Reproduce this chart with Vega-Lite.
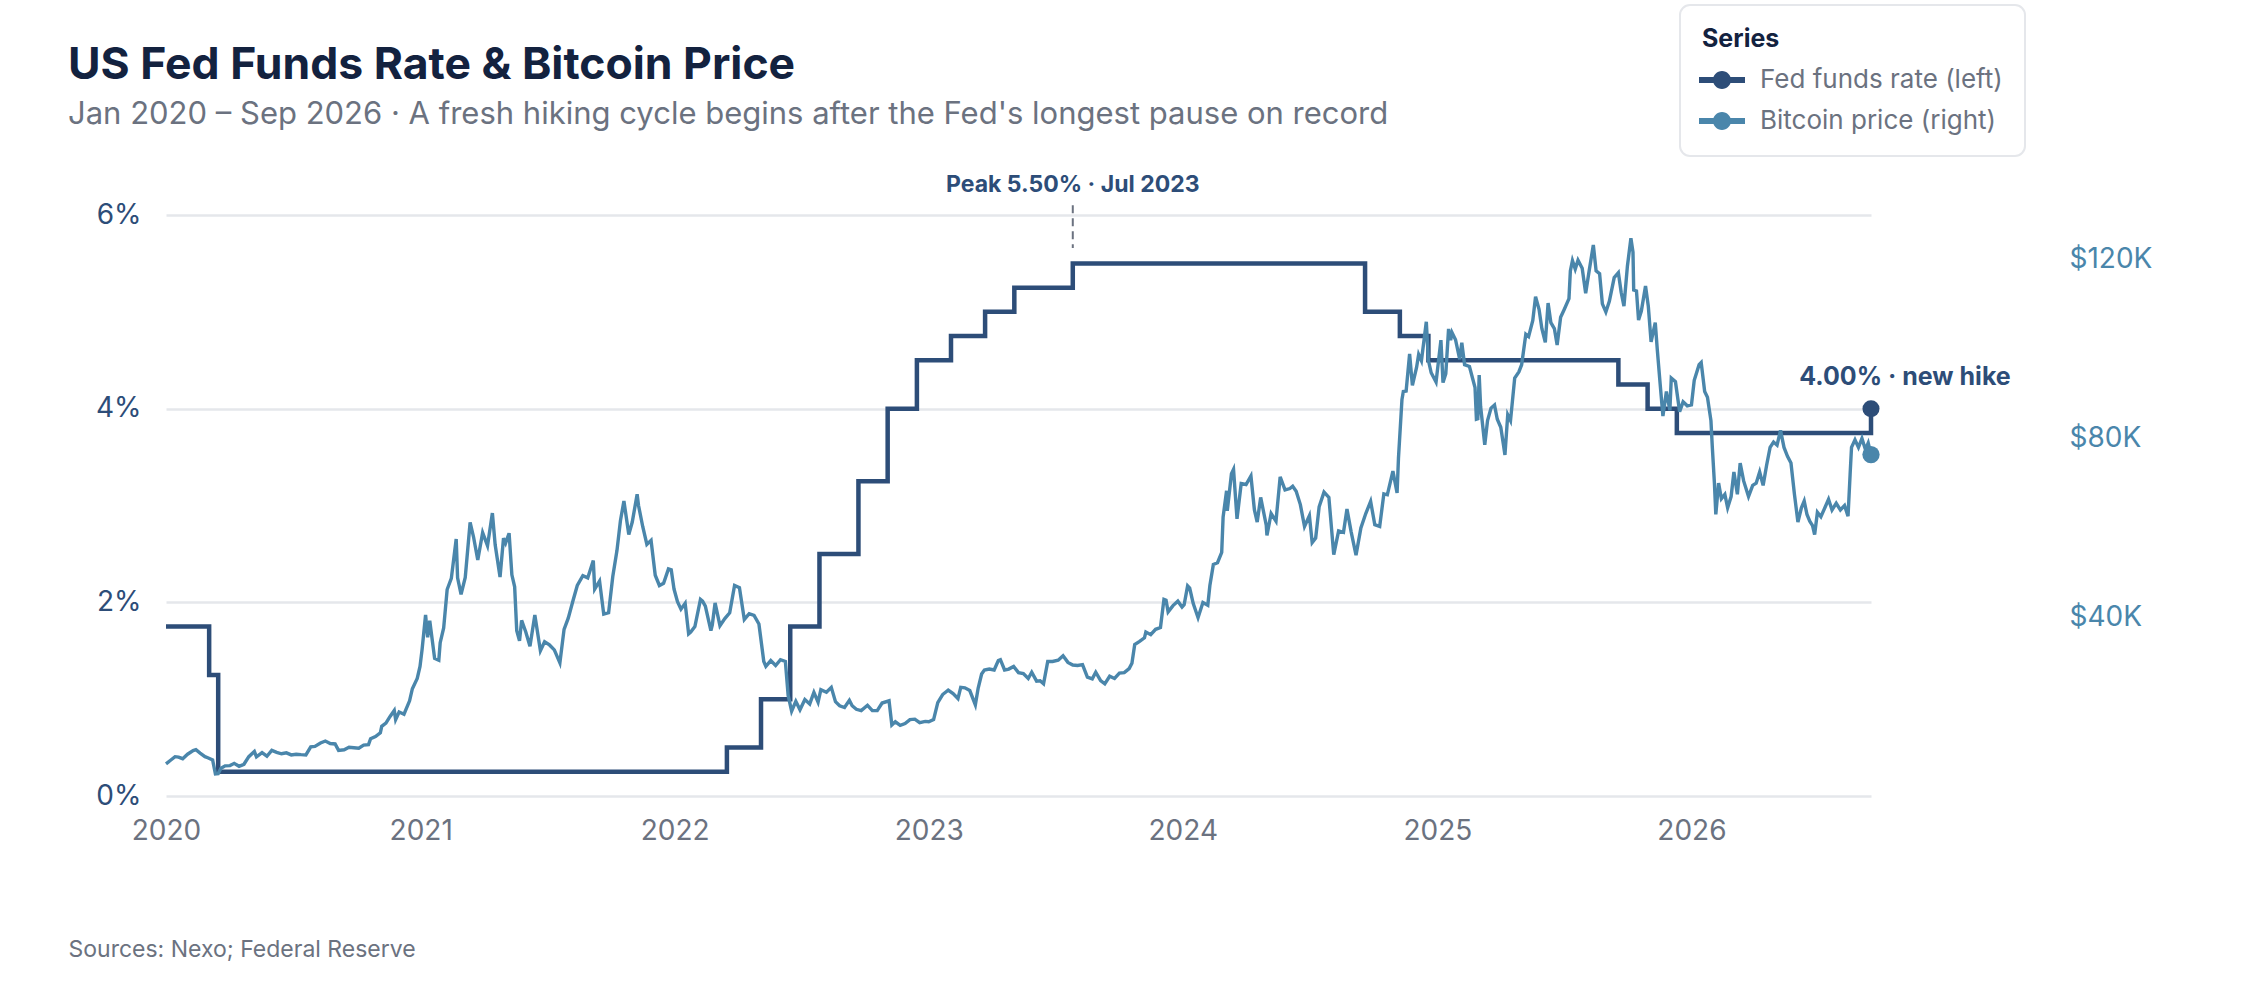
{
  "$schema": "https://vega.github.io/schema/vega-lite/v6.json",
  "autosize": {"type": "none"},
  "width": 1705,
  "height": 581,
  "padding": {"left": 166, "top": 215, "right": 371, "bottom": 206},
  "background": "white",
  "config": {"font": "Inter", "view": {"stroke": null}},
  "title": {
    "text": "US Fed Funds Rate & Bitcoin Price",
    "subtitle": "Jan 2020 – Sep 2026 · A fresh hiking cycle begins after the Fed's longest pause on record",
    "anchor": "start",
    "frame": "group",
    "dx": -98,
    "offset": -127,
    "font": "Inter",
    "fontSize": 44.5,
    "fontWeight": 700,
    "color": "#13223f",
    "subtitleFont": "Inter",
    "subtitleFontSize": 31,
    "subtitleColor": "#6b7280",
    "subtitlePadding": 12
  },
  "datasets": {
    "fed": [
      {"date": "2020-01-01", "rate": 1.75},
      {"date": "2020-03-03", "rate": 1.25},
      {"date": "2020-03-16", "rate": 0.25},
      {"date": "2022-03-17", "rate": 0.5},
      {"date": "2022-05-05", "rate": 1.0},
      {"date": "2022-06-16", "rate": 1.75},
      {"date": "2022-07-28", "rate": 2.5},
      {"date": "2022-09-22", "rate": 3.25},
      {"date": "2022-11-03", "rate": 4.0},
      {"date": "2022-12-15", "rate": 4.5},
      {"date": "2023-02-02", "rate": 4.75},
      {"date": "2023-03-23", "rate": 5.0},
      {"date": "2023-05-04", "rate": 5.25},
      {"date": "2023-07-27", "rate": 5.5},
      {"date": "2024-09-19", "rate": 5.0},
      {"date": "2024-11-08", "rate": 4.75},
      {"date": "2024-12-19", "rate": 4.5},
      {"date": "2025-09-18", "rate": 4.25},
      {"date": "2025-10-30", "rate": 4.0},
      {"date": "2025-12-11", "rate": 3.75},
      {"date": "2026-09-16", "rate": 4.0}
    ],
    "peak": [
      {"date": "2023-07-27", "rate": 5.5, "label": "Peak 5.50% · Jul 2023"}
    ],
    "hike": [
      {"date": "2026-09-16", "rate": 4.0, "label": "4.00% · new hike"}
    ],
    "btc": [
      {"date": "2020-01-01", "price": 7200},
      {"date": "2020-01-08", "price": 8050},
      {"date": "2020-01-14", "price": 8800},
      {"date": "2020-01-19", "price": 8700},
      {"date": "2020-01-25", "price": 8350},
      {"date": "2020-02-01", "price": 9350},
      {"date": "2020-02-09", "price": 10150},
      {"date": "2020-02-13", "price": 10350},
      {"date": "2020-02-19", "price": 9600},
      {"date": "2020-02-26", "price": 8800},
      {"date": "2020-03-01", "price": 8550},
      {"date": "2020-03-08", "price": 8050},
      {"date": "2020-03-12", "price": 4950},
      {"date": "2020-03-16", "price": 5000},
      {"date": "2020-03-20", "price": 6200},
      {"date": "2020-03-26", "price": 6750},
      {"date": "2020-04-02", "price": 6800},
      {"date": "2020-04-08", "price": 7300},
      {"date": "2020-04-15", "price": 6650},
      {"date": "2020-04-22", "price": 7100},
      {"date": "2020-04-29", "price": 8800},
      {"date": "2020-05-07", "price": 9950},
      {"date": "2020-05-10", "price": 8750},
      {"date": "2020-05-18", "price": 9700},
      {"date": "2020-05-25", "price": 8900},
      {"date": "2020-06-01", "price": 10200},
      {"date": "2020-06-08", "price": 9750},
      {"date": "2020-06-15", "price": 9450},
      {"date": "2020-06-22", "price": 9650},
      {"date": "2020-06-29", "price": 9200},
      {"date": "2020-07-06", "price": 9350},
      {"date": "2020-07-13", "price": 9250},
      {"date": "2020-07-20", "price": 9200},
      {"date": "2020-07-27", "price": 11000},
      {"date": "2020-08-02", "price": 11100},
      {"date": "2020-08-10", "price": 11850},
      {"date": "2020-08-17", "price": 12300},
      {"date": "2020-08-24", "price": 11750},
      {"date": "2020-08-31", "price": 11650},
      {"date": "2020-09-05", "price": 10200},
      {"date": "2020-09-13", "price": 10350},
      {"date": "2020-09-20", "price": 10900},
      {"date": "2020-09-27", "price": 10800},
      {"date": "2020-10-04", "price": 10700},
      {"date": "2020-10-11", "price": 11400},
      {"date": "2020-10-18", "price": 11500},
      {"date": "2020-10-21", "price": 12800},
      {"date": "2020-10-28", "price": 13300},
      {"date": "2020-11-04", "price": 14150},
      {"date": "2020-11-06", "price": 15600},
      {"date": "2020-11-12", "price": 16300},
      {"date": "2020-11-18", "price": 17800},
      {"date": "2020-11-24", "price": 19150},
      {"date": "2020-11-26", "price": 17100},
      {"date": "2020-12-01", "price": 18800},
      {"date": "2020-12-08", "price": 18300},
      {"date": "2020-12-16", "price": 21300},
      {"date": "2020-12-20", "price": 24000},
      {"date": "2020-12-27", "price": 26300},
      {"date": "2020-12-31", "price": 29000},
      {"date": "2021-01-03", "price": 32800},
      {"date": "2021-01-08", "price": 40500},
      {"date": "2021-01-11", "price": 35500},
      {"date": "2021-01-14", "price": 39200},
      {"date": "2021-01-21", "price": 30800},
      {"date": "2021-01-27", "price": 30400},
      {"date": "2021-01-29", "price": 34300},
      {"date": "2021-02-03", "price": 37600},
      {"date": "2021-02-08", "price": 46200},
      {"date": "2021-02-14", "price": 48700},
      {"date": "2021-02-21", "price": 57500},
      {"date": "2021-02-23", "price": 48800},
      {"date": "2021-02-28", "price": 45100},
      {"date": "2021-03-06", "price": 48900},
      {"date": "2021-03-13", "price": 61200},
      {"date": "2021-03-18", "price": 57900},
      {"date": "2021-03-24", "price": 52800},
      {"date": "2021-03-31", "price": 58900},
      {"date": "2021-04-07", "price": 56000},
      {"date": "2021-04-14", "price": 63300},
      {"date": "2021-04-18", "price": 56200},
      {"date": "2021-04-25", "price": 49000},
      {"date": "2021-04-30", "price": 57700},
      {"date": "2021-05-03", "price": 56600},
      {"date": "2021-05-08", "price": 58800},
      {"date": "2021-05-12", "price": 49500},
      {"date": "2021-05-16", "price": 46800},
      {"date": "2021-05-19", "price": 37000},
      {"date": "2021-05-23", "price": 34700},
      {"date": "2021-05-26", "price": 39300},
      {"date": "2021-06-01", "price": 36700},
      {"date": "2021-06-07", "price": 33500},
      {"date": "2021-06-14", "price": 40500},
      {"date": "2021-06-22", "price": 32500},
      {"date": "2021-06-28", "price": 34500},
      {"date": "2021-07-05", "price": 33800},
      {"date": "2021-07-12", "price": 32700},
      {"date": "2021-07-20", "price": 29800},
      {"date": "2021-07-26", "price": 37300},
      {"date": "2021-08-01", "price": 39800},
      {"date": "2021-08-08", "price": 43800},
      {"date": "2021-08-14", "price": 47100},
      {"date": "2021-08-22", "price": 49300},
      {"date": "2021-08-29", "price": 48800},
      {"date": "2021-09-06", "price": 52700},
      {"date": "2021-09-08", "price": 46300},
      {"date": "2021-09-15", "price": 48100},
      {"date": "2021-09-21", "price": 40700},
      {"date": "2021-09-28", "price": 41000},
      {"date": "2021-10-04", "price": 49100},
      {"date": "2021-10-10", "price": 54900},
      {"date": "2021-10-15", "price": 61600},
      {"date": "2021-10-20", "price": 66000},
      {"date": "2021-10-27", "price": 58500},
      {"date": "2021-11-01", "price": 61300},
      {"date": "2021-11-08", "price": 67500},
      {"date": "2021-11-10", "price": 65000},
      {"date": "2021-11-16", "price": 60300},
      {"date": "2021-11-22", "price": 56300},
      {"date": "2021-11-28", "price": 57200},
      {"date": "2021-12-04", "price": 49400},
      {"date": "2021-12-10", "price": 47100},
      {"date": "2021-12-16", "price": 47600},
      {"date": "2021-12-23", "price": 50800},
      {"date": "2021-12-27", "price": 50600},
      {"date": "2021-12-31", "price": 46300},
      {"date": "2022-01-05", "price": 43500},
      {"date": "2022-01-10", "price": 41800},
      {"date": "2022-01-16", "price": 43100},
      {"date": "2022-01-21", "price": 36300},
      {"date": "2022-01-24", "price": 36700},
      {"date": "2022-01-30", "price": 37900},
      {"date": "2022-02-07", "price": 44000},
      {"date": "2022-02-10", "price": 43600},
      {"date": "2022-02-14", "price": 42500},
      {"date": "2022-02-22", "price": 37000},
      {"date": "2022-02-24", "price": 38300},
      {"date": "2022-02-28", "price": 43200},
      {"date": "2022-03-07", "price": 38100},
      {"date": "2022-03-14", "price": 39700},
      {"date": "2022-03-21", "price": 41000},
      {"date": "2022-03-28", "price": 47100},
      {"date": "2022-04-04", "price": 46600},
      {"date": "2022-04-11", "price": 39500},
      {"date": "2022-04-18", "price": 40800},
      {"date": "2022-04-25", "price": 40400},
      {"date": "2022-05-02", "price": 38500},
      {"date": "2022-05-09", "price": 30100},
      {"date": "2022-05-12", "price": 29000},
      {"date": "2022-05-19", "price": 30300},
      {"date": "2022-05-26", "price": 29200},
      {"date": "2022-06-02", "price": 30500},
      {"date": "2022-06-09", "price": 30100},
      {"date": "2022-06-13", "price": 22500},
      {"date": "2022-06-18", "price": 19000},
      {"date": "2022-06-24", "price": 21200},
      {"date": "2022-06-30", "price": 19300},
      {"date": "2022-07-07", "price": 21600},
      {"date": "2022-07-14", "price": 20600},
      {"date": "2022-07-20", "price": 23200},
      {"date": "2022-07-26", "price": 21000},
      {"date": "2022-07-30", "price": 23800},
      {"date": "2022-08-07", "price": 23200},
      {"date": "2022-08-14", "price": 24300},
      {"date": "2022-08-20", "price": 21100},
      {"date": "2022-08-26", "price": 20200},
      {"date": "2022-09-02", "price": 19800},
      {"date": "2022-09-09", "price": 21400},
      {"date": "2022-09-13", "price": 20200},
      {"date": "2022-09-19", "price": 19400},
      {"date": "2022-09-26", "price": 19100},
      {"date": "2022-10-05", "price": 20300},
      {"date": "2022-10-12", "price": 19100},
      {"date": "2022-10-19", "price": 19100},
      {"date": "2022-10-26", "price": 20800},
      {"date": "2022-11-05", "price": 21300},
      {"date": "2022-11-09", "price": 15900},
      {"date": "2022-11-14", "price": 16600},
      {"date": "2022-11-21", "price": 15800},
      {"date": "2022-11-28", "price": 16200},
      {"date": "2022-12-05", "price": 17100},
      {"date": "2022-12-12", "price": 17200},
      {"date": "2022-12-19", "price": 16400},
      {"date": "2022-12-27", "price": 16700},
      {"date": "2023-01-01", "price": 16600},
      {"date": "2023-01-08", "price": 17100},
      {"date": "2023-01-14", "price": 20900},
      {"date": "2023-01-21", "price": 22700},
      {"date": "2023-01-29", "price": 23700},
      {"date": "2023-02-05", "price": 22900},
      {"date": "2023-02-12", "price": 21800},
      {"date": "2023-02-16", "price": 24300},
      {"date": "2023-02-22", "price": 24200},
      {"date": "2023-03-01", "price": 23600},
      {"date": "2023-03-09", "price": 20400},
      {"date": "2023-03-13", "price": 24100},
      {"date": "2023-03-18", "price": 27300},
      {"date": "2023-03-22", "price": 28200},
      {"date": "2023-03-29", "price": 28400},
      {"date": "2023-04-05", "price": 28200},
      {"date": "2023-04-11", "price": 30300},
      {"date": "2023-04-14", "price": 30500},
      {"date": "2023-04-20", "price": 28200},
      {"date": "2023-04-26", "price": 28400},
      {"date": "2023-05-03", "price": 29000},
      {"date": "2023-05-10", "price": 27600},
      {"date": "2023-05-17", "price": 27400},
      {"date": "2023-05-24", "price": 26300},
      {"date": "2023-05-29", "price": 27700},
      {"date": "2023-06-05", "price": 25700},
      {"date": "2023-06-10", "price": 25800},
      {"date": "2023-06-15", "price": 25100},
      {"date": "2023-06-21", "price": 30100},
      {"date": "2023-06-28", "price": 30100},
      {"date": "2023-07-06", "price": 30400},
      {"date": "2023-07-13", "price": 31400},
      {"date": "2023-07-20", "price": 29900},
      {"date": "2023-07-27", "price": 29300},
      {"date": "2023-08-03", "price": 29200},
      {"date": "2023-08-10", "price": 29400},
      {"date": "2023-08-17", "price": 26600},
      {"date": "2023-08-24", "price": 26200},
      {"date": "2023-08-29", "price": 27700},
      {"date": "2023-09-05", "price": 25800},
      {"date": "2023-09-11", "price": 25100},
      {"date": "2023-09-18", "price": 26800},
      {"date": "2023-09-25", "price": 26300},
      {"date": "2023-10-02", "price": 27500},
      {"date": "2023-10-09", "price": 27600},
      {"date": "2023-10-16", "price": 28500},
      {"date": "2023-10-20", "price": 29700},
      {"date": "2023-10-24", "price": 33900},
      {"date": "2023-10-31", "price": 34600},
      {"date": "2023-11-07", "price": 35400},
      {"date": "2023-11-09", "price": 36700},
      {"date": "2023-11-16", "price": 36100},
      {"date": "2023-11-23", "price": 37300},
      {"date": "2023-11-30", "price": 37700},
      {"date": "2023-12-05", "price": 44000},
      {"date": "2023-12-08", "price": 43800},
      {"date": "2023-12-11", "price": 41200},
      {"date": "2023-12-18", "price": 42600},
      {"date": "2023-12-25", "price": 43600},
      {"date": "2023-12-31", "price": 42300},
      {"date": "2024-01-03", "price": 42800},
      {"date": "2024-01-08", "price": 47000},
      {"date": "2024-01-11", "price": 46500},
      {"date": "2024-01-16", "price": 43100},
      {"date": "2024-01-23", "price": 39900},
      {"date": "2024-01-30", "price": 43300},
      {"date": "2024-02-06", "price": 42700},
      {"date": "2024-02-09", "price": 47100},
      {"date": "2024-02-14", "price": 51800},
      {"date": "2024-02-20", "price": 52200},
      {"date": "2024-02-26", "price": 54500},
      {"date": "2024-02-28", "price": 62400},
      {"date": "2024-03-04", "price": 68300},
      {"date": "2024-03-05", "price": 63800},
      {"date": "2024-03-11", "price": 72100},
      {"date": "2024-03-14", "price": 73100},
      {"date": "2024-03-19", "price": 62000},
      {"date": "2024-03-25", "price": 69900},
      {"date": "2024-04-01", "price": 69700},
      {"date": "2024-04-08", "price": 71600},
      {"date": "2024-04-13", "price": 64000},
      {"date": "2024-04-17", "price": 61300},
      {"date": "2024-04-22", "price": 66800},
      {"date": "2024-04-30", "price": 60600},
      {"date": "2024-05-01", "price": 58300},
      {"date": "2024-05-07", "price": 63200},
      {"date": "2024-05-14", "price": 61500},
      {"date": "2024-05-20", "price": 71400},
      {"date": "2024-05-27", "price": 68500},
      {"date": "2024-06-03", "price": 68800},
      {"date": "2024-06-07", "price": 69300},
      {"date": "2024-06-12", "price": 68200},
      {"date": "2024-06-18", "price": 65200},
      {"date": "2024-06-24", "price": 60300},
      {"date": "2024-07-01", "price": 62700},
      {"date": "2024-07-05", "price": 56700},
      {"date": "2024-07-10", "price": 57700},
      {"date": "2024-07-15", "price": 64700},
      {"date": "2024-07-22", "price": 68000},
      {"date": "2024-07-29", "price": 66800},
      {"date": "2024-08-05", "price": 54000},
      {"date": "2024-08-12", "price": 59300},
      {"date": "2024-08-19", "price": 59000},
      {"date": "2024-08-24", "price": 64200},
      {"date": "2024-08-30", "price": 59100},
      {"date": "2024-09-06", "price": 53900},
      {"date": "2024-09-13", "price": 60000},
      {"date": "2024-09-20", "price": 63200},
      {"date": "2024-09-27", "price": 65900},
      {"date": "2024-10-03", "price": 60700},
      {"date": "2024-10-10", "price": 60300},
      {"date": "2024-10-16", "price": 67600},
      {"date": "2024-10-21", "price": 67400},
      {"date": "2024-10-29", "price": 72700},
      {"date": "2024-11-04", "price": 67800},
      {"date": "2024-11-06", "price": 75600},
      {"date": "2024-11-11", "price": 88700},
      {"date": "2024-11-13", "price": 90500},
      {"date": "2024-11-17", "price": 90600},
      {"date": "2024-11-22", "price": 98900},
      {"date": "2024-11-26", "price": 91900},
      {"date": "2024-12-02", "price": 95900},
      {"date": "2024-12-05", "price": 98800},
      {"date": "2024-12-09", "price": 97400},
      {"date": "2024-12-16", "price": 106100},
      {"date": "2024-12-19", "price": 97500},
      {"date": "2024-12-23", "price": 94700},
      {"date": "2024-12-30", "price": 92600},
      {"date": "2025-01-06", "price": 102000},
      {"date": "2025-01-09", "price": 92500},
      {"date": "2025-01-13", "price": 94500},
      {"date": "2025-01-17", "price": 104500},
      {"date": "2025-01-20", "price": 102000},
      {"date": "2025-01-22", "price": 103700},
      {"date": "2025-01-27", "price": 102100},
      {"date": "2025-02-02", "price": 97700},
      {"date": "2025-02-05", "price": 101400},
      {"date": "2025-02-09", "price": 96500},
      {"date": "2025-02-16", "price": 96100},
      {"date": "2025-02-24", "price": 91400},
      {"date": "2025-02-26", "price": 84300},
      {"date": "2025-02-28", "price": 84400},
      {"date": "2025-03-02", "price": 94200},
      {"date": "2025-03-04", "price": 87200},
      {"date": "2025-03-10", "price": 78600},
      {"date": "2025-03-14", "price": 84000},
      {"date": "2025-03-19", "price": 86800},
      {"date": "2025-03-24", "price": 87500},
      {"date": "2025-03-28", "price": 84300},
      {"date": "2025-04-02", "price": 82500},
      {"date": "2025-04-06", "price": 78400},
      {"date": "2025-04-08", "price": 76300},
      {"date": "2025-04-12", "price": 85300},
      {"date": "2025-04-16", "price": 84000},
      {"date": "2025-04-22", "price": 93500},
      {"date": "2025-04-28", "price": 94900},
      {"date": "2025-05-02", "price": 96500},
      {"date": "2025-05-08", "price": 103300},
      {"date": "2025-05-12", "price": 102800},
      {"date": "2025-05-18", "price": 106400},
      {"date": "2025-05-22", "price": 111700},
      {"date": "2025-05-27", "price": 108900},
      {"date": "2025-05-31", "price": 104600},
      {"date": "2025-06-05", "price": 101500},
      {"date": "2025-06-09", "price": 110300},
      {"date": "2025-06-13", "price": 105900},
      {"date": "2025-06-18", "price": 104600},
      {"date": "2025-06-22", "price": 100900},
      {"date": "2025-06-27", "price": 107100},
      {"date": "2025-07-02", "price": 108800},
      {"date": "2025-07-09", "price": 111300},
      {"date": "2025-07-11", "price": 117500},
      {"date": "2025-07-14", "price": 119800},
      {"date": "2025-07-18", "price": 117900},
      {"date": "2025-07-22", "price": 119900},
      {"date": "2025-07-28", "price": 118100},
      {"date": "2025-08-02", "price": 112500},
      {"date": "2025-08-07", "price": 117500},
      {"date": "2025-08-13", "price": 123300},
      {"date": "2025-08-17", "price": 117500},
      {"date": "2025-08-22", "price": 116900},
      {"date": "2025-08-26", "price": 110100},
      {"date": "2025-08-31", "price": 108300},
      {"date": "2025-09-05", "price": 110700},
      {"date": "2025-09-12", "price": 116000},
      {"date": "2025-09-18", "price": 117100},
      {"date": "2025-09-22", "price": 112700},
      {"date": "2025-09-26", "price": 109600},
      {"date": "2025-10-01", "price": 118600},
      {"date": "2025-10-06", "price": 124800},
      {"date": "2025-10-09", "price": 121700},
      {"date": "2025-10-10", "price": 113200},
      {"date": "2025-10-14", "price": 113000},
      {"date": "2025-10-17", "price": 106500},
      {"date": "2025-10-21", "price": 108500},
      {"date": "2025-10-27", "price": 114100},
      {"date": "2025-10-31", "price": 109600},
      {"date": "2025-11-04", "price": 101600},
      {"date": "2025-11-10", "price": 105900},
      {"date": "2025-11-13", "price": 99700},
      {"date": "2025-11-17", "price": 92200},
      {"date": "2025-11-21", "price": 85000},
      {"date": "2025-11-26", "price": 90500},
      {"date": "2025-12-01", "price": 86300},
      {"date": "2025-12-03", "price": 93500},
      {"date": "2025-12-09", "price": 92700},
      {"date": "2025-12-15", "price": 86000},
      {"date": "2025-12-20", "price": 88200},
      {"date": "2025-12-26", "price": 87300},
      {"date": "2026-01-01", "price": 87500},
      {"date": "2026-01-05", "price": 93000},
      {"date": "2026-01-12", "price": 96500},
      {"date": "2026-01-15", "price": 97000},
      {"date": "2026-01-20", "price": 90500},
      {"date": "2026-01-24", "price": 89200},
      {"date": "2026-01-29", "price": 84000},
      {"date": "2026-01-31", "price": 78000},
      {"date": "2026-02-03", "price": 70000},
      {"date": "2026-02-05", "price": 63000},
      {"date": "2026-02-09", "price": 70000},
      {"date": "2026-02-13", "price": 66500},
      {"date": "2026-02-18", "price": 67500},
      {"date": "2026-02-22", "price": 64500},
      {"date": "2026-02-27", "price": 67000},
      {"date": "2026-03-03", "price": 72500},
      {"date": "2026-03-08", "price": 67500},
      {"date": "2026-03-12", "price": 74500},
      {"date": "2026-03-17", "price": 70500},
      {"date": "2026-03-24", "price": 67000},
      {"date": "2026-03-30", "price": 69500},
      {"date": "2026-04-04", "price": 70000},
      {"date": "2026-04-09", "price": 72500},
      {"date": "2026-04-14", "price": 69500},
      {"date": "2026-04-19", "price": 74000},
      {"date": "2026-04-24", "price": 78000},
      {"date": "2026-04-29", "price": 79200},
      {"date": "2026-05-04", "price": 78500},
      {"date": "2026-05-09", "price": 81800},
      {"date": "2026-05-14", "price": 78000},
      {"date": "2026-05-19", "price": 76000},
      {"date": "2026-05-24", "price": 74500},
      {"date": "2026-05-29", "price": 67500},
      {"date": "2026-06-03", "price": 61300},
      {"date": "2026-06-08", "price": 64500},
      {"date": "2026-06-12", "price": 66000},
      {"date": "2026-06-16", "price": 63000},
      {"date": "2026-06-20", "price": 61500},
      {"date": "2026-06-24", "price": 60500},
      {"date": "2026-06-27", "price": 58500},
      {"date": "2026-07-01", "price": 63500},
      {"date": "2026-07-06", "price": 62500},
      {"date": "2026-07-12", "price": 64600},
      {"date": "2026-07-17", "price": 66400},
      {"date": "2026-07-22", "price": 64000},
      {"date": "2026-07-28", "price": 65500},
      {"date": "2026-08-03", "price": 64000},
      {"date": "2026-08-09", "price": 65000},
      {"date": "2026-08-14", "price": 62600},
      {"date": "2026-08-17", "price": 72000},
      {"date": "2026-08-19", "price": 78000},
      {"date": "2026-08-24", "price": 79700},
      {"date": "2026-08-29", "price": 78000},
      {"date": "2026-09-03", "price": 80000},
      {"date": "2026-09-08", "price": 77500},
      {"date": "2026-09-12", "price": 79000},
      {"date": "2026-09-16", "price": 76400}
    ]
  },
  "encoding": {
    "x": {
      "field": "date",
      "type": "temporal",
      "scale": {
        "type": "utc",
        "domain": [
          {"year": 2020, "month": 1, "date": 1, "utc": true},
          {"year": 2026, "month": 9, "date": 16, "utc": true}
        ]
      },
      "axis": {
        "title": "Sources: Nexo; Federal Reserve",
        "titleX": -98,
        "titleY": 160,
        "titleAlign": "left",
        "titleAnchor": "start",
        "titleBaseline": "alphabetic",
        "titleFontSize": 23,
        "titleFontWeight": 400,
        "titleColor": "#6b7280",
        "format": "%Y",
        "tickCount": {"interval": "year", "step": 1},
        "labelFontSize": 28,
        "labelColor": "#6b7280",
        "labelPadding": 21,
        "labelFlush": false,
        "domain": false,
        "ticks": false,
        "grid": false
      }
    }
  },
  "resolve": {"scale": {"y": "independent"}},
  "layer": [
    {
      "encoding": {
        "y": {
          "field": "rate",
          "type": "quantitative",
          "scale": {"domain": [0, 6], "nice": false},
          "axis": {
            "orient": "left",
            "values": [0, 2, 4, 6],
            "labelExpr": "datum.value + '%'",
            "title": null,
            "domain": false,
            "ticks": false,
            "labelFontSize": 28,
            "labelColor": "#2d4d78",
            "labelPadding": 25,
            "grid": true,
            "gridColor": "#e5e7eb",
            "gridWidth": 2.5
          }
        }
      },
      "layer": [
        {
          "data": {"name": "fed"},
          "mark": {"type": "line", "interpolate": "step-after", "strokeWidth": 4.5},
          "encoding": {
            "color": {
              "datum": "Fed funds rate (left)",
              "type": "nominal",
              "scale": {
                "domain": ["Fed funds rate (left)", "Bitcoin price (right)"],
                "range": ["#2d4d78", "#4a86ab"]
              },
              "legend": {
                "orient": "none",
                "legendX": 1514,
                "legendY": -210,
                "title": "Series",
                "titleFontSize": 25,
                "titleFontWeight": 700,
                "titleColor": "#13223f",
                "titlePadding": 8,
                "labelFontSize": 26,
                "labelLimit": 800,
                "labelColor": "#6b7280",
                "labelOffset": 18,
                "padding": 22,
                "strokeColor": "#e5e7eb",
                "cornerRadius": 10,
                "fillColor": "white",
                "symbolType": "M-1.15,-0.15L1.15,-0.15L1.15,0.15L-1.15,0.15Z M-0.45,0A0.45,0.45 0 1,1 0.45,0A0.45,0.45 0 1,1 -0.45,0Z",
                "symbolSize": 1600,
                "symbolStrokeWidth": 0,
                "rowPadding": 8,
                "encode": {
                  "legend": {
                    "update": {"strokeWidth": {"value": 2}}
                  },
                  "symbols": {
                    "update": {
                      "fill": {"scale": "color", "field": "value"},
                      "opacity": {"value": 1}
                    }
                  }
                }
              }
            }
          }
        },
        {
          "data": {"name": "hike"},
          "mark": {"type": "point", "filled": true, "size": 290, "opacity": 1},
          "encoding": {
            "color": {"datum": "Fed funds rate (left)", "type": "nominal"}
          }
        },
        {
          "data": {"name": "peak"},
          "mark": {"type": "rule", "strokeDash": [8, 5], "strokeWidth": 2, "color": "#6b7280"},
          "encoding": {
            "y": {"datum": 6.1},
            "y2": {"datum": 5.66}
          }
        },
        {
          "data": {"name": "peak"},
          "mark": {
            "type": "text",
            "dy": -71,
            "baseline": "alphabetic",
            "align": "center",
            "fontSize": 23,
            "fontWeight": 700,
            "color": "#2d4d78"
          },
          "encoding": {"text": {"field": "label"}}
        },
        {
          "data": {"name": "hike"},
          "mark": {
            "type": "text",
            "dx": 34,
            "dy": -24,
            "baseline": "alphabetic",
            "align": "center",
            "fontSize": 25,
            "fontWeight": 700,
            "color": "#2d4d78"
          },
          "encoding": {"text": {"field": "label"}}
        }
      ]
    },
    {
      "data": {"name": "btc"},
      "encoding": {
        "y": {
          "field": "price",
          "type": "quantitative",
          "scale": {"domain": [0, 130000], "nice": false},
          "axis": {
            "orient": "right",
            "values": [40000, 80000, 120000],
            "labelExpr": "'$' + (datum.value / 1000) + 'K'",
            "title": null,
            "domain": false,
            "ticks": false,
            "grid": false,
            "offset": 178,
            "labelPadding": 20,
            "labelFontSize": 28,
            "labelColor": "#4a86ab"
          }
        },
        "color": {"datum": "Bitcoin price (right)", "type": "nominal"}
      },
      "layer": [
        {"mark": {"type": "line", "strokeWidth": 3.4}},
        {
          "transform": [
            {"window": [{"op": "row_number", "as": "rn"}], "sort": [{"field": "date", "order": "descending"}]},
            {"filter": "datum.rn == 1"}
          ],
          "mark": {"type": "point", "filled": true, "size": 300, "opacity": 1}
        }
      ]
    }
  ]
}
